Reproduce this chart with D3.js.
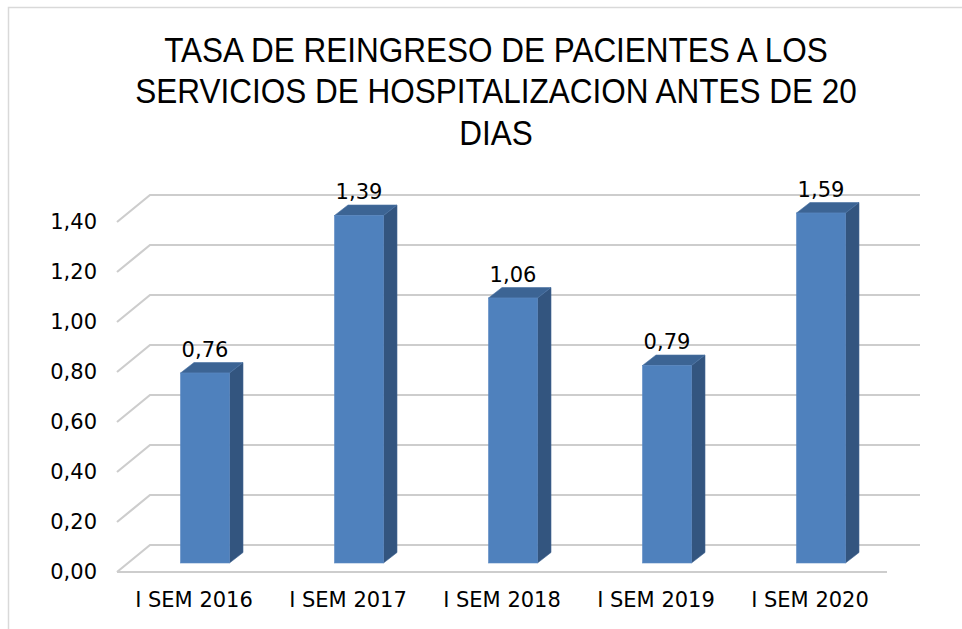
<!DOCTYPE html>
<html>
<head>
<meta charset="utf-8">
<script src="https://cdn.jsdelivr.net/npm/d3@7"></script>
<style>
  html, body { margin: 0; padding: 0; background: #fff; }
  svg { display: block; }
</style>
</head>
<body>
<script>
// Chart data
const titleLines = [
  "TASA DE REINGRESO DE PACIENTES A LOS",
  "SERVICIOS DE HOSPITALIZACION ANTES DE 20",
  "DIAS"
];
const categories = ["I SEM 2016", "I SEM 2017", "I SEM 2018", "I SEM 2019", "I SEM 2020"];
const values = [0.76, 1.39, 1.06, 0.79, 1.59];
const tickValues = [0, 0.2, 0.4, 0.6, 0.8, 1.0, 1.2, 1.4];
const yMax = 1.4;

const W = 962, H = 629;
const svg = d3.select("body").append("svg").attr("width", W).attr("height", H);

// Spanish number format: comma decimal separator
const locale = d3.formatLocale({ decimal: ",", thousands: ".", grouping: [3], currency: ["", "€"] });
const fmt = locale.format(".2f");

// Outer chart frame (left and top edges)
svg.append("path")
  .attr("d", `M8.5,${H} L8.5,7.5 L${W},7.5`)
  .attr("fill", "none").attr("stroke", "#d9d9d9").attr("stroke-width", 1.5);

// 3D geometry: front plane of the floor and a depth vector to the back wall
const floorLeft = 117, floorRight = 887, floorFrontY = 572;
const depth = { dx: 33, dy: -27 };
const barPlane = 1 / 3;                 // bars sit a third of the way into the depth
const barDepth = { dx: 13.5, dy: -10.5 };

// Value scale on the back wall, clamped at the axis maximum
const yBack = d3.scaleLinear().domain([0, yMax]).range([floorFrontY + depth.dy, floorFrontY + depth.dy - 350]).clamp(true);
const yFront = v => yBack(v) - depth.dy;
const yBar = v => yBack(v) - depth.dy * (1 - barPlane);

const x = d3.scaleBand().domain(categories).range([floorLeft, floorRight]).paddingInner(0).paddingOuter(0);
const barW = x.bandwidth() * 0.318;

// Gridlines: side wall diagonal plus back wall horizontal
const grid = svg.append("g").attr("fill", "none").attr("stroke", "#cdcdcd").attr("stroke-width", 2.2);
tickValues.forEach(v => {
  grid.append("path")
    .attr("d", `M${floorLeft},${yFront(v)} L${floorLeft + depth.dx},${yBack(v)} L${floorRight + depth.dx},${yBack(v)}`);
});
// Floor front edge
grid.append("path").attr("d", `M${floorLeft},${yFront(0)} L${floorRight},${yFront(0)}`);

// Bars (front, side, top faces)
const bars = svg.append("g").selectAll("g").data(values).join("g");
bars.each(function (v, i) {
  const g = d3.select(this);
  const x0 = x(categories[i]) + depth.dx * barPlane + (x.bandwidth() - barW) / 2;
  const x1 = x0 + barW;
  const y0 = yBar(0), yt = yBar(v);
  const { dx, dy } = barDepth;
  g.append("path") // side
    .attr("d", `M${x1},${y0} L${x1 + dx},${y0 + dy} L${x1 + dx},${yt + dy} L${x1},${yt} Z`)
    .attr("fill", "#33557f").attr("stroke", "#3d6291").attr("stroke-width", 0.6);
  g.append("path") // top
    .attr("d", `M${x0},${yt} L${x0 + dx},${yt + dy} L${x1 + dx},${yt + dy} L${x1},${yt} Z`)
    .attr("fill", "#3c6494").attr("stroke", "#4a72a3").attr("stroke-width", 0.6);
  g.append("rect") // front
    .attr("x", x0).attr("y", yt).attr("width", barW).attr("height", y0 - yt)
    .attr("fill", "#4f81bd").attr("stroke", "#5a89c2").attr("stroke-width", 0.6);
  g.append("text")
    .attr("x", x0 + barW / 2).attr("y", yt - 16.5)
    .attr("text-anchor", "middle")
    .attr("font-family", "DejaVu Sans, sans-serif").attr("font-size", 21).attr("fill", "#000")
    .text(fmt(v));
});

// Value axis labels (front plane)
const yAxisScale = d3.scaleLinear().domain([0, yMax]).range([yFront(0), yFront(yMax)]);
const yAxis = svg.append("g")
  .attr("transform", `translate(103,0)`)
  .call(d3.axisLeft(yAxisScale).tickValues(tickValues).tickFormat(fmt).tickSize(0).tickPadding(6));
yAxis.select(".domain").remove();
yAxis.selectAll("text")
  .attr("font-family", "DejaVu Sans, sans-serif").attr("font-size", 21).attr("fill", "#000");

// Category axis labels
const xAxis = svg.append("g")
  .attr("transform", `translate(0,${floorFrontY})`)
  .call(d3.axisBottom(x).tickSize(0).tickPadding(20));
xAxis.select(".domain").remove();
xAxis.selectAll("text")
  .attr("font-family", "DejaVu Sans, sans-serif").attr("font-size", 21).attr("fill", "#000");

// Title in a condensed face
const titleX = 496, titleScale = 0.9;
const title = svg.append("g").attr("transform", `translate(${titleX},0) scale(${titleScale},1)`);
title.selectAll("text").data(titleLines).join("text")
  .attr("x", 0).attr("y", (d, i) => 62 + i * 41.5)
  .attr("text-anchor", "middle")
  .attr("font-family", "Liberation Sans, Arial, sans-serif").attr("font-size", 35).attr("fill", "#000")
  .text(d => d);
</script>
</body>
</html>
